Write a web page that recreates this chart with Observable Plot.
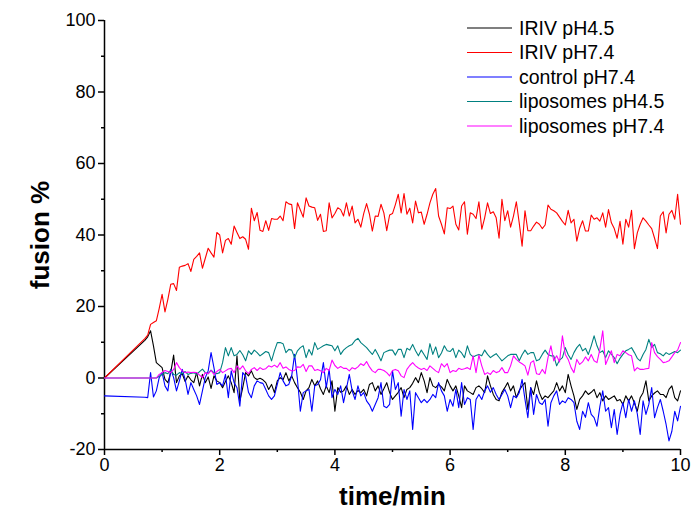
<!DOCTYPE html>
<html>
<head>
<meta charset="utf-8">
<script src="https://cdn.jsdelivr.net/npm/d3@7"></script>
<script src="https://cdn.jsdelivr.net/npm/@observablehq/plot@0.6"></script>
<style>
  body { margin: 0; background: #fff; }
  #chart { position: relative; width: 691px; height: 518px; font-family: "Liberation Sans", Arial, sans-serif; }
  #legend { position: absolute; left: 0; top: 0; pointer-events: none; }
</style>
</head>
<body>
<div id="chart"></div>
<script>
// ---------- data ----------
const seriesNames = ["IRIV pH4.5", "IRIV pH7.4", "control pH7.4", "liposomes pH4.5", "liposomes pH7.4"];
const seriesColors = ["#000000", "#ff0000", "#0000ff", "#008080", "#ff00ff"];

// first sample at t = 0, then regular sampling every 0.05 min from 0.70 to 10.00 min
const sampleStart = 0.7;
const sampleStep = 0.05;
const sampleCount = 187;

const xTicks = [0, 2, 4, 6, 8, 10];
const xMinorTicks = [1, 3, 5, 7, 9];
const yTicks = [-20, 0, 20, 40, 60, 80, 100];
const yMinorTicks = [-10, 10, 30, 50, 70, 90];

const irivPH45 = [0,
  10.5, 11.5, 13.2, 9, 4.3, 3.6,
  2.9, -0.4, -1.3, 1.5, 6.4, -1.3, 0.6, 1.2, -1, 0.6, -0.5, -1.3, 1.5, -2.2, 1, -1.3, 0.3, -2.9, 0.6, -0.8,
  -1.3, -2.7, -1, 0.6, -1.3, -4.1, 6.2, -6.4, -2.7, 1.5, 0.6, 2, 0.1, -0.4, -0.1, -0.5, -1.3, -3.2, -1.8, -4.1,
  -0.8, 0.1, -0.5, 1.5, -0.8, 0.6, -1.3, -2.7, -4, -6, -3.6, -2.7, -0.4, -2.2, -0.8, -3, -4.6, -2.2, -4.1, -0.8,
  -9.3, -2.7, -4, -3.6, -2.2, -4.6, -3.2, -4.6, -3.5, -4.1, -3.2, -5, -1.8, -1.3, -3.6, -2.2, -4.6, -3, -1.3, -4.1,
  -6, -5, -4, -2.7, -5.5, -3.2, -2.7, -1.5, 0.1, -1.3, 1.5, -0.8, -4.1, 0.1, -2.2, -2.7, -1.8, -2.5, -3.6, -0.4,
  -2.2, -3.6, -2.2, -5, -8.3, -2.2, -3.6, -4.1, -4.6, -2.7, -2.2, -3, -4.1, 0.6, -2.2, -4.6, -6, -6.4, -4, -2.7,
  -1.3, -3.6, -2.2, -5.5, -3.5, -2.2, -1.3, -8.8, -2.7, -4.6, -0.8, -4.1, -6, -5, -5.5, -4.5, -3.6, -1.3, -3.6, -2.2,
  -4.1, 1, -2.2, -5, -8.8, -6, -5, -3.6, -4.6, -4, -3.2, -5.5, -4.1, -6.4, -5, -6, -5.5, -5, -6.4, -6,
  -7.4, -5, -6.4, -5, -7, -9.3, -5.5, -4.1, -0.8, -6.4, -5, -4.2, -3.6, -4.6, -4.6, -5.5, -3.2, -2.2, -5.5, -6.4,
  -3.6];

const irivPH74 = [0,
  11, 12, 15, 15.5, 16, 19.5,
  23.4, 18.5, 22, 26.2, 26.4, 24.5, 31, 31.3, 31.5, 32, 29.8, 33.2, 34, 35, 30.7, 33.5, 36.3, 35, 33.8, 40.7,
  40, 35, 38.5, 39, 37.4, 42.5, 40.7, 39, 39.5, 38.8, 36, 47.5, 44, 46.3, 41.3, 41, 44, 41.3, 44.6, 44.4,
  44.4, 45.3, 44, 49.3, 48.7, 48.5, 41.8, 49, 47, 45, 50.4, 48.1, 47.8, 47.6, 44.1, 45.8, 41, 41.2, 49, 44.8,
  46, 47.6, 47.1, 45.3, 49, 45.3, 48.1, 43.4, 44.4, 42.2, 46, 48.8, 45.8, 41.1, 45.3, 45.2, 48.6, 46.2, 41.2, 45.6,
  46, 48.5, 51.4, 46.2, 51.6, 45.8, 47.5, 43.4, 49.5, 46.2, 46.4, 43, 45.8, 49, 51.4, 53, 45.3, 43, 40.3, 47.6,
  47.4, 48.1, 43, 41.4, 48.1, 49.3, 40.2, 46.2, 45.8, 44.6, 49.3, 41.6, 44.8, 49, 46, 46.5, 44.8, 39.1, 50, 44,
  46.8, 42.2, 45.3, 49.3, 43.4, 36.9, 46.8, 41.2, 41.2, 42.5, 43.6, 43, 41.8, 42.8, 48.4, 47.2, 46.8, 46.2, 45, 43.8,
  42.8, 46.9, 43.4, 44.4, 38.3, 41.9, 44, 41.1, 41.1, 45.6, 44.4, 44.8, 43.9, 46.2, 42.2, 47.1, 43.4, 41.8, 39.1, 43.8,
  37.4, 44.4, 42.2, 46.9, 36.2, 40.6, 43, 44.8, 43.9, 42.8, 41.8, 39.1, 36.2, 45.3, 46.5, 40.6, 45.8, 46.9, 44.4, 51.4,
  43];

const controlPH74 = [-5,
  -5.4, -5.5, 1.5, -5.3, -3.6, 0.1,
  1.5, -2.2, -3.6, 2.4, 0.1, -3.6, -0.8, 2.4, -0.4, -4.6, -1.3, -3.2, -5, -7.4, -3.6, 0.1, 2, 7.1, 2.9, -1.8,
  -1.3, -2.2, 1, -5.5, 2, -1.3, -2.7, -7.9, 1.5, 0.5, -4, -5.5, -2.2, -0.8, -1.3, -1.5, -3.2, -5, -6, -5,
  -1.8, 1.5, -0.8, -2.2, -1.8, 0.6, 6.6, -0.4, -9.3, -4.1, -3.6, -3.2, -9.3, -2.2, -1.8, -0.5, 4.3, -2.7, 2.4, -5.5,
  -3.2, -4.6, -2.2, -6.9, -3, 1, -3.6, -6, -2.2, -5, -4.1, -6.4, -7.5, -9.3, -7.4, -5.5, -1.3, -7.9, -8.3, -7.4,
  2, -3.2, -1.3, -10.7, -3.2, -6, -3.6, -14.4, -4.1, -5.5, -6.9, -6, -6.9, -6, -4.6, -5.5, -1.3, -3.6, -5, -9.3,
  -6, -7.9, -3.2, -8.3, -1.3, -7.4, -5.5, -6, -14.4, -6, -4.6, -6, -3.6, -2.2, -4, -2.7, -4.6, -6, -4.6, -3.2,
  -5, -8.3, -5, -5.5, -4.1, -0.4, -6, -11.1, -2.7, -10.2, -4.6, -6.9, -7.4, -6, -13.5, -6.9, -5, -3.6, -7.4, -6.4,
  -6.9, -5.5, -6, -6.9, -12.1, -14.4, -9.3, -11, -6.9, -10.2, -11.1, -13.5, -8, -3.6, -9.3, -8.3, -13.9, -8.8, -15.8, -10.2,
  -6.9, -11.1, -6, -9.3, -6.4, -10, -15.8, -6.4, -10.2, -7.4, -2.7, -11.1, -8.3, -6, -9.3, -13, -17.6, -14.9, -9.3, -12,
  -7.9];

const liposomesPH45 = [0,
  0, 0, 0, 0, 0, 0.5,
  1, 1.5, 1.2, 2.2, 1, 0.8, 1.5, 1.2, 1.8, 1, 1.3, 1.5, 1, 1.8, 2.5, 1.5, 1.2, 2.2, 1.5, 1.2,
  1.5, 4.3, 8.5, 6.2, 8.5, 6.2, 6.6, 7.7, 6.5, 4.8, 7.6, 6.6, 7.8, 7.1, 6.2, 6.8, 7.4, 7.1, 4.8, 7.6,
  9.9, 9.9, 9.6, 7.1, 8, 7.8, 5.7, 7.6, 8.5, 9, 5.7, 8, 6.4, 9.9, 8, 8.5, 9, 9.4, 9.2, 9,
  7.6, 9, 6.6, 7.8, 8.5, 9, 9.4, 10.5, 11.1, 9.9, 9.2, 8.5, 7.5, 6.6, 8, 6.5, 4.8, 7.1, 7.5, 7.8,
  7.8, 6.4, 8, 8, 5.7, 8.3, 7.8, 9.4, 7.6, 6.2, 7.8, 6.5, 5.2, 9.6, 6.6, 8.7, 5.7, 7, 9, 7.6,
  7.4, 8.3, 5.7, 7.8, 7, 5.7, 9, 6.6, 5.9, 6.3, 6.6, 6.2, 7.8, 6.6, 5.7, 6.3, 6.8, 5.8, 4.8, 5.5,
  6.2, 6.6, 6.6, 6.6, 4.8, 6.5, 7.8, 6.6, 7.1, 7.1, 4.8, 5.2, 6.6, 7.8, 6.6, 6.2, 6.2, 3.4, 5, 5.7,
  8.5, 6.5, 5.2, 7.1, 8.5, 9.4, 7.6, 8.3, 6.6, 9, 11.8, 9, 7.1, 7.6, 5.7, 7.6, 6.6, 5.7, 4, 5.5,
  6.6, 7.6, 8, 8.5, 7.1, 5.5, 4.8, 6.6, 8, 10.8, 8.5, 9.4, 7.1, 6.8, 6.2, 7.1, 6.6, 7, 7.4, 7.1,
  7.8];

const liposomesPH74 = [0,
  0, 0, 0, 0, 0, 1,
  1.5, 2.1, 1.8, 1.5, 2.4, 4.3, 2.9, 2, 1.5, 1.7, 1.5, 1.6, 1.5, 0.8, 0.1, 1.5, 1.2, 2.1, 1, 1.8,
  2.4, 1.5, 2, 2.5, 2.7, 1.5, 3.4, 2.4, 3.4, 2, 1.2, 2.4, 2.9, 2.1, 2.9, 2.4, 2.6, 3.4, 3.1, 3.6,
  3, 4.3, 2.7, 3.1, 2.4, 2, 2.1, 3.1, 3, 3.8, 1.8, 3.4, 3.4, 2.1, 2.4, 2, 1.5, 2.7, 2.1, 5,
  3.5, 2.7, 3.2, 2.7, 2.7, 2, 2.9, 2.5, 3.1, 4, 3.5, 4.6, 3.1, 2, 1.5, 2.4, 2.4, 2.1, 1.5, 0.6,
  2.1, 2.4, 2, 0.6, 0.1, 2.4, 3.5, 4.3, 3.4, 2.8, 2.4, 2.7, 2.1, 3.4, 2.7, 2, 1.5, 4, 3.1, 4,
  1.5, 2.1, 1.8, 2.7, 2.4, 2.6, 2.9, 2.4, 6.2, 1.5, 6.4, 3.4, 1, 1.5, 1, 2.1, 1.5, 1.8, 2.9, 1.5,
  1.5, 3.4, 6.2, 5.2, 4.5, 4, 3.4, 0.8, 4.3, 4.8, 1.2, 1, 2.4, 1.2, 5.7, 9, 4.8, 6.2, 4.5, 11.8,
  6.6, 5.2, 2.9, 1.5, 5.2, 3.8, 4.5, 5.9, 4.8, 6.6, 4.8, 4.3, 8, 13.2, 3.8, 5.7, 7.6, 4.3, 6.6, 6.2,
  7.6, 7.1, 6.5, 6.2, 2, 2.9, 2.4, 2.4, 2.6, 2.7, 9.9, 7.1, 6, 5.2, 4.3, 4.5, 4.8, 5.9, 7.1, 7.8,
  9.9];

const seriesValues = [irivPH45, irivPH74, controlPH74, liposomesPH45, liposomesPH74];

// ---------- build table ----------
const times = [0].concat(d3.range(sampleCount).map(i => +(sampleStart + i * sampleStep).toFixed(2)));
const rows = [];
seriesNames.forEach((name, k) => {
  const vals = seriesValues[k];
  for (let i = 0; i < Math.min(vals.length, times.length); i++) {
    rows.push({ series: name, t: times[i], v: vals[i] });
  }
});

const font = "Liberation Sans, Arial, Helvetica, sans-serif";
const fmt = d => String(d);

const plot = Plot.plot({
  width: 691,
  height: 518,
  marginTop: 20,
  marginRight: 11,
  marginBottom: 69,
  marginLeft: 104,
  style: { fontFamily: font, fontSize: "18px", background: "white", color: "black", overflow: "visible" },
  x: { domain: [0, 10] },
  y: { domain: [-20, 100] },
  marks: [
    Plot.axisX({ ticks: xTicks, tickSize: 6, tickPadding: 3, tickFormat: fmt, label: null, fontSize: 18, stroke: "black", strokeWidth: 1.5 }),
    Plot.axisX({ ticks: xMinorTicks, tickSize: 3, tickFormat: () => "", label: null, stroke: "black", strokeWidth: 1.5 }),
    Plot.axisY({ ticks: yTicks, tickSize: 6, tickPadding: 3, tickFormat: fmt, label: null, fontSize: 18, stroke: "black", strokeWidth: 1.5 }),
    Plot.axisY({ ticks: yMinorTicks, tickSize: 3, tickFormat: () => "", label: null, stroke: "black", strokeWidth: 1.5 }),
    Plot.ruleX([0], { stroke: "black", strokeWidth: 1.5 }),
    Plot.ruleY([-20], { stroke: "black", strokeWidth: 1.5 }),
    ...seriesNames.map((name, k) =>
      Plot.line(rows.filter(r => r.series === name), { x: "t", y: "v", stroke: seriesColors[k], strokeWidth: 1.1 })
    ),
    Plot.text(["time/min"], { text: d => d, frameAnchor: "bottom", dy: 55, fontSize: 26, fontWeight: "bold" }),
    Plot.text(["fusion %"], { text: d => d, frameAnchor: "left", textAnchor: "middle", dx: -64, rotate: -90, fontSize: 26, fontWeight: "bold" })
  ]
});

const chart = document.getElementById("chart");
chart.appendChild(plot);

// ---------- legend overlay ----------
const legend = d3.select(chart).append("svg")
  .attr("id", "legend")
  .attr("width", 691)
  .attr("height", 518);
const lg = legend.selectAll("g").data(seriesNames).join("g")
  .attr("transform", (d, i) => `translate(467, ${28 + i * 24.5})`);
lg.append("line")
  .attr("x1", 0).attr("x2", 45).attr("y1", 0).attr("y2", 0)
  .attr("stroke", (d, i) => seriesColors[i]).attr("stroke-width", 1.2);
lg.append("text")
  .attr("x", 52).attr("y", 0).attr("dy", "0.35em")
  .attr("font-family", font).attr("font-size", 19.5).attr("fill", "black")
  .text(d => d);
</script>
</body>
</html>
